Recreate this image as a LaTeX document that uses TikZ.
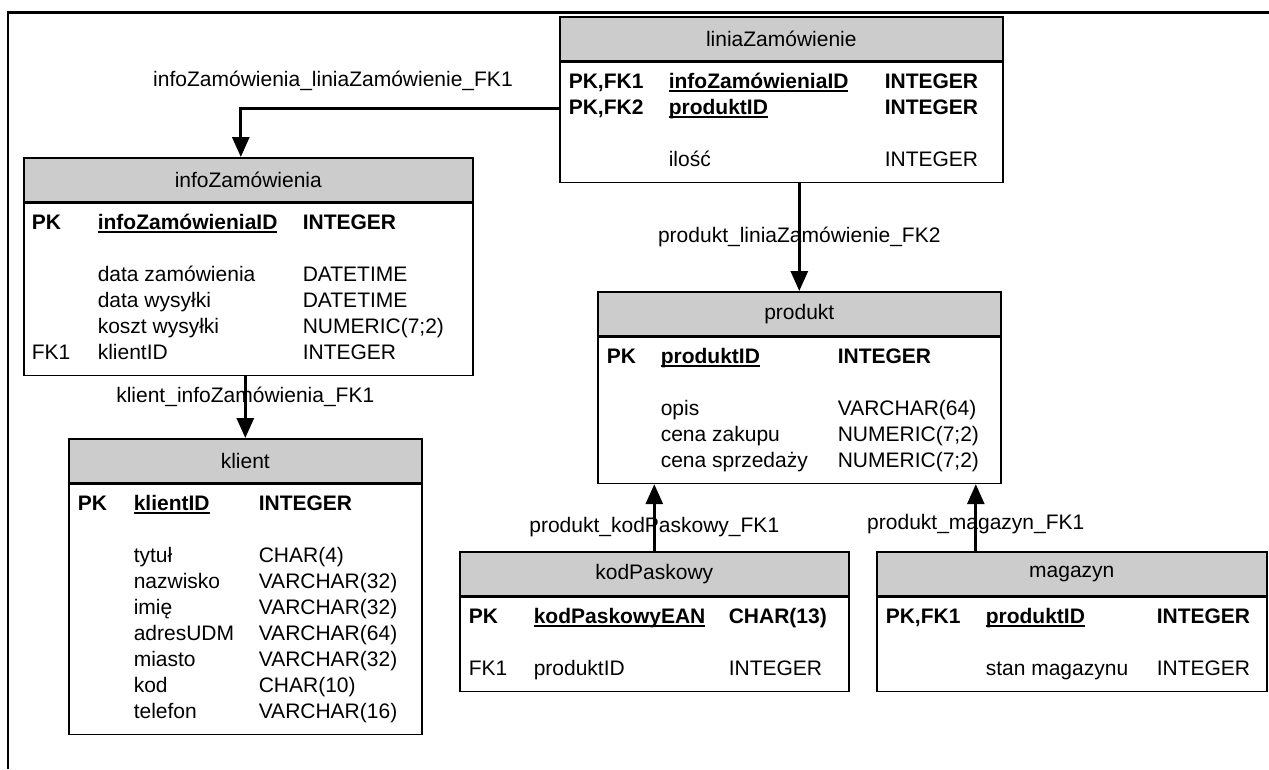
\documentclass[tikz,border=0pt]{standalone}
\usepackage{fontspec}
\setmainfont{Liberation Sans}
\usepackage{array}
\usepackage{tikz}
\usetikzlibrary{arrows.meta,positioning}
\definecolor{head-gray}{RGB}{204,204,204}
\setlength{\tabcolsep}{0pt}
\newcommand{\keyfield}[1]{\setbox0\hbox{#1}\rlap{\rule[-3.5pt]{\wd0}{1.8pt}}\box0}

\begin{document}
\begin{tikzpicture}[
    x=1pt, y=-1pt,
    tbl head/.style={
        draw,
        line width=1.6pt,
        fill=head-gray,
        anchor=north west,
        minimum height=44pt,
        inner sep=0pt,
        font=\fontsize{21}{26}\selectfont
    },
    tbl body/.style={
        draw,
        line width=1.6pt,
        fill=white,
        anchor=north west,
        inner xsep=9pt,
        inner ysep=8pt,
        font=\fontsize{21}{26}\selectfont
    },
    fk/.style={-{Triangle[length=20pt,width=17pt]}, line width=3pt},
    fk label/.style={font=\fontsize{21}{26}\selectfont, inner sep=0pt}
]

\useasboundingbox (0,0) rectangle (1269,769);

% Frame
\draw[line width=2.5pt] (8,769) |- (1269,12.5);

% liniaZamówienie
\node[tbl head, minimum width=443pt] (liniazam head) at (559,16) {liniaZamówienie};
\node[tbl body] (liniazam body) at (liniazam head.south west) {%
    \begin{tabular}{@{}p{100pt}p{216pt}p{109pt}@{}}
    \textbf{PK,FK1} & \textbf{\keyfield{infoZamówieniaID}} & \textbf{INTEGER}\\
    \textbf{PK,FK2} & \textbf{\keyfield{produktID}} & \textbf{INTEGER}\\
    & & \\
    & ilość & INTEGER
    \end{tabular}};

% infoZamówienia
\node[tbl head, minimum width=449pt] (infozam head) at (23,157) {infoZamówienia};
\node[tbl body, inner xsep=8pt] (infozam body) at (infozam head.south west) {%
    \begin{tabular}{@{}p{66pt}p{205pt}p{162pt}@{}}
    \textbf{PK} & \textbf{\keyfield{infoZamówieniaID}} & \textbf{INTEGER}\\
    & & \\
    & data zamówienia & DATETIME\\
    & data wysyłki & DATETIME\\
    & koszt wysyłki & NUMERIC(7;2)\\
    FK1 & klientID & INTEGER
    \end{tabular}};

% klient
\node[tbl head, minimum width=353pt] (klient head) at (68,438) {klient};
\node[tbl body] (klient body) at (klient head.south west) {%
    \begin{tabular}{@{}p{56pt}p{125pt}p{154pt}@{}}
    \textbf{PK} & \textbf{\keyfield{klientID}} & \textbf{INTEGER}\\
    & & \\
    & tytuł & CHAR(4)\\
    & nazwisko & VARCHAR(32)\\
    & imię & VARCHAR(32)\\
    & adresUDM & VARCHAR(64)\\
    & miasto & VARCHAR(32)\\
    & kod & CHAR(10)\\
    & telefon & VARCHAR(16)
    \end{tabular}};

% produkt
\node[tbl head, minimum width=403pt] (produkt head) at (597,291) {produkt};
\node[tbl body] (produkt body) at (produkt head.south west) {%
    \begin{tabular}{@{}p{54pt}p{177pt}p{154pt}@{}}
    \textbf{PK} & \textbf{\keyfield{produktID}} & \textbf{INTEGER}\\
    & & \\
    & opis & VARCHAR(64)\\
    & cena zakupu & NUMERIC(7;2)\\
    & cena sprzedaży & NUMERIC(7;2)
    \end{tabular}};

% kodPaskowy
\node[tbl head, minimum width=389pt] (kodpaskowy head) at (459,551) {kodPaskowy};
\node[tbl body] (kodpaskowy body) at (kodpaskowy head.south west) {%
    \begin{tabular}{@{}p{65pt}p{195pt}p{111pt}@{}}
    \textbf{PK} & \textbf{\keyfield{kodPaskowyEAN}} & \textbf{CHAR(13)}\\
    & & \\
    FK1 & produktID & INTEGER
    \end{tabular}};

% magazyn
\node[tbl head, minimum width=390pt] (magazyn head) at (876,551) {magazyn};
\node[tbl body] (magazyn body) at (magazyn head.south west) {%
    \begin{tabular}{@{}p{100pt}p{171pt}p{101pt}@{}}
    \textbf{PK,FK1} & \textbf{\keyfield{produktID}} & \textbf{INTEGER}\\
    & & \\
    & stan magazynu & INTEGER
    \end{tabular}};

% Relations
\node[fk label] (infolinia label) at (333,81) {infoZamówienia\_liniaZamówienie\_FK1};
\draw[fk] ([yshift=-47pt]liniazam body.north west) -| ([xshift=-7.5pt]infozam head.north);
\draw[fk] (produkt head.north |- liniazam body.south) --
    node[fk label] (produktlinia label) {produkt\_liniaZamówienie\_FK2} (produkt head.north);
\draw[fk] (klient head.north |- infozam body.south) --
    node[fk label, pos=0.34] (klientinfo label) {klient\_infoZamówienia\_FK1} (klient head.north);
\draw[fk] (kodpaskowy head.north) --
    node[fk label, pos=0.36] (produktkod label) {produkt\_kodPaskowy\_FK1} (kodpaskowy head.north |- produkt body.south);
\coordinate (magazyn link) at ([xshift=-96pt]magazyn head.north);
\draw[fk] (magazyn link) --
    node[fk label, pos=0.4] (produktmag label) {produkt\_magazyn\_FK1} (magazyn link |- produkt body.south);

\end{tikzpicture}
\end{document}
